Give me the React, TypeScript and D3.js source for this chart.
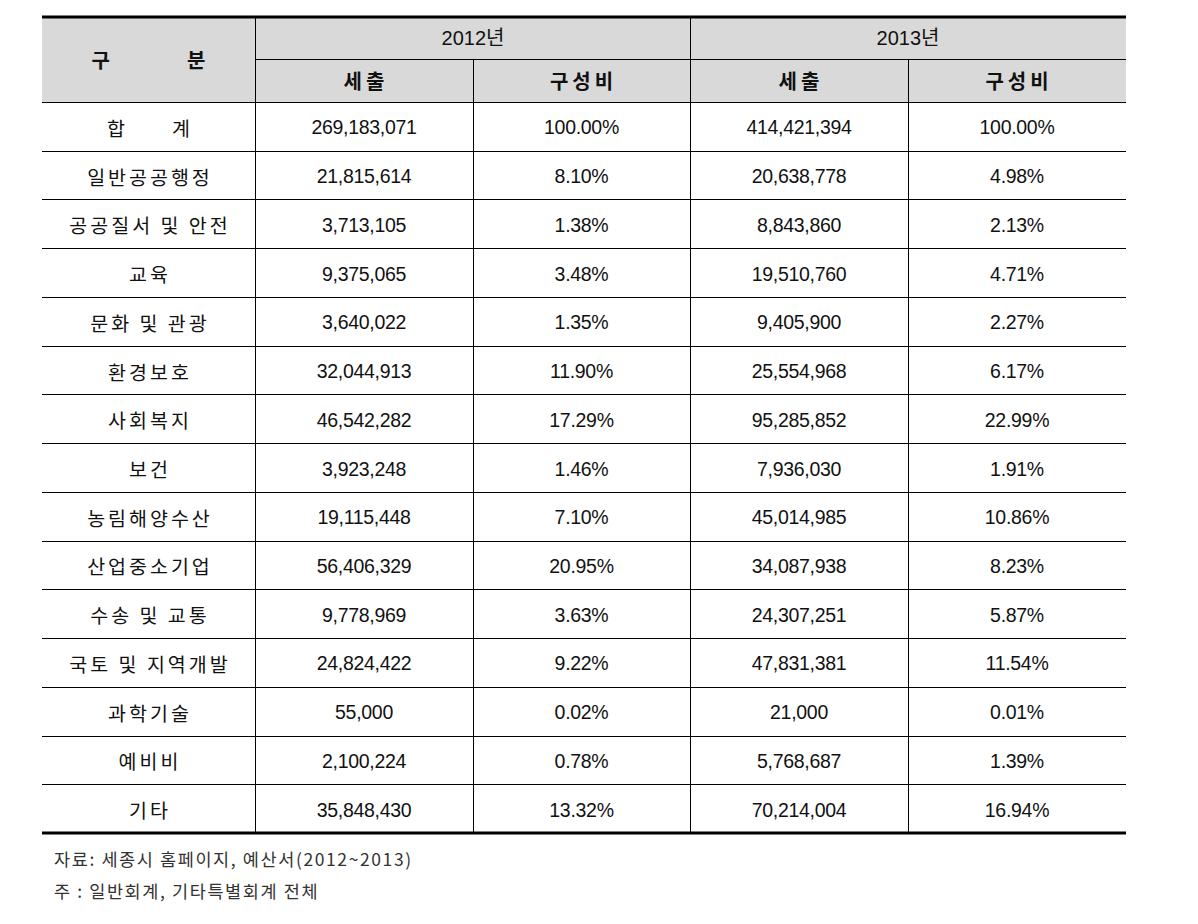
import React from 'react';
import * as d3 from 'd3';

const CATEGORIES = [
  '합      계', '일반공공행정', '공공질서 및 안전', '교육', '문화 및 관광', '환경보호',
  '사회복지', '보건', '농림해양수산', '산업중소기업', '수송 및 교통', '국토 및 지역개발',
  '과학기술', '예비비', '기타',
];
const EXP_2012 = [
  '269,183,071', '21,815,614', '3,713,105', '9,375,065', '3,640,022', '32,044,913',
  '46,542,282', '3,923,248', '19,115,448', '56,406,329', '9,778,969', '24,824,422',
  '55,000', '2,100,224', '35,848,430',
];
const PCT_2012 = [
  '100.00%', '8.10%', '1.38%', '3.48%', '1.35%', '11.90%', '17.29%', '1.46%', '7.10%',
  '20.95%', '3.63%', '9.22%', '0.02%', '0.78%', '13.32%',
];
const EXP_2013 = [
  '414,421,394', '20,638,778', '8,843,860', '19,510,760', '9,405,900', '25,554,968',
  '95,285,852', '7,936,030', '45,014,985', '34,087,938', '24,307,251', '47,831,381',
  '21,000', '5,768,687', '70,214,004',
];
const PCT_2013 = [
  '100.00%', '4.98%', '2.13%', '4.71%', '2.27%', '6.17%', '22.99%', '1.91%', '10.86%',
  '8.23%', '5.87%', '11.54%', '0.01%', '1.39%', '16.94%',
];
const YEARS = ['2012년', '2013년'];
const SUB_HEADERS = ['세출', '구성비'];
const NOTES = ['자료: 세종시 홈페이지, 예산서(2012~2013)', '주 : 일반회계, 기타특별회계 전체'];

const W = 1198;
const H = 924;
const FONT = '"Noto Sans CJK KR", sans-serif';
const NUM_FONT = '"Liberation Sans", "Noto Sans CJK KR", sans-serif';

export default function App() {
  const left = 42;
  const right = 1126;
  const top = 17;
  const headerH = 85;
  const bottom = 833;

  // column edges
  const edges = [left, 255, 473, 690, 908, right];
  const col = (i: number) => edges[i];
  const colMid = (i: number) => (edges[i] + edges[i + 1]) / 2;

  const rowY = d3.scaleBand<number>()
    .domain(d3.range(CATEGORIES.length))
    .range([top + headerH, bottom]);

  const columns = [CATEGORIES, EXP_2012, PCT_2012, EXP_2013, PCT_2013];

  return (
    <div style={{ position: 'absolute', left: 0, top: 0 }}>
      <svg width={W} height={H} style={{ display: 'block', background: '#fff' }}>
        {/* header background */}
        <rect x={left} y={top} width={right - left} height={headerH} fill="#d9d9d9" />

        {/* header texts */}
        <text x={colMid(0)} y={top + headerH / 2} textAnchor="middle" dominantBaseline="central"
          fontFamily={FONT} fontSize={20} fontWeight={600} fill="#111" style={{ whiteSpace: 'pre' }}>
          {'구                 분'}
        </text>
        {YEARS.map((y, i) => (
          <text key={y} x={col(1 + i * 2 + 1)} y={top + headerH / 4} textAnchor="middle"
            dominantBaseline="central" fontFamily={NUM_FONT} fontSize={20} fill="#111">{y}</text>
        ))}
        {[1, 2, 3, 4].map(c => (
          <text key={c} x={colMid(c) + 2} y={top + headerH * 0.75} textAnchor="middle"
            dominantBaseline="central" fontFamily={FONT} fontSize={20} fontWeight={600}
            letterSpacing={4} fill="#111">{SUB_HEADERS[(c - 1) % 2]}</text>
        ))}

        {/* body */}
        {columns.map((vals, c) => vals.map((v, r) => (
          <text key={`${c}-${r}`} x={colMid(c) + (c === 0 ? 1.5 : 0)}
            y={(rowY(r) ?? 0) + rowY.bandwidth() / 2 + 1}
            textAnchor="middle" dominantBaseline="central"
            fontFamily={c === 0 ? FONT : NUM_FONT} fontSize={c === 0 ? 19.5 : 19.5}
            letterSpacing={c === 0 ? 3 : -0.3}
            fill="#111" style={{ whiteSpace: 'pre' }}>{v}</text>
        )))}

        {/* horizontal lines */}
        <line x1={col(1)} x2={right} y1={top + headerH / 2} y2={top + headerH / 2} stroke="#000" />
        {d3.range(CATEGORIES.length).map(r => (
          <line key={r} x1={left} x2={right} y1={Math.round(rowY(r) ?? 0) + 0.5}
            y2={Math.round(rowY(r) ?? 0) + 0.5} stroke="#000" />
        ))}

        {/* vertical lines */}
        {[1, 2, 3, 4].map(c => (
          <line key={c} x1={col(c) + 0.5} x2={col(c) + 0.5}
            y1={c === 2 || c === 4 ? top + headerH / 2 : top} y2={bottom} stroke="#000" />
        ))}

        {/* thick borders */}
        <line x1={left} x2={right} y1={top} y2={top} stroke="#000" strokeWidth={3} />
        <line x1={left} x2={right} y1={bottom} y2={bottom} stroke="#000" strokeWidth={3} />

        {/* notes */}
        {NOTES.map((n, i) => (
          <text key={n} x={54} y={858 + i * 32} dominantBaseline="central" fontFamily={FONT}
            fontSize={17.5} letterSpacing={1.6} fill="#333" style={{ whiteSpace: 'pre' }}>{n}</text>
        ))}
      </svg>
    </div>
  );
}
